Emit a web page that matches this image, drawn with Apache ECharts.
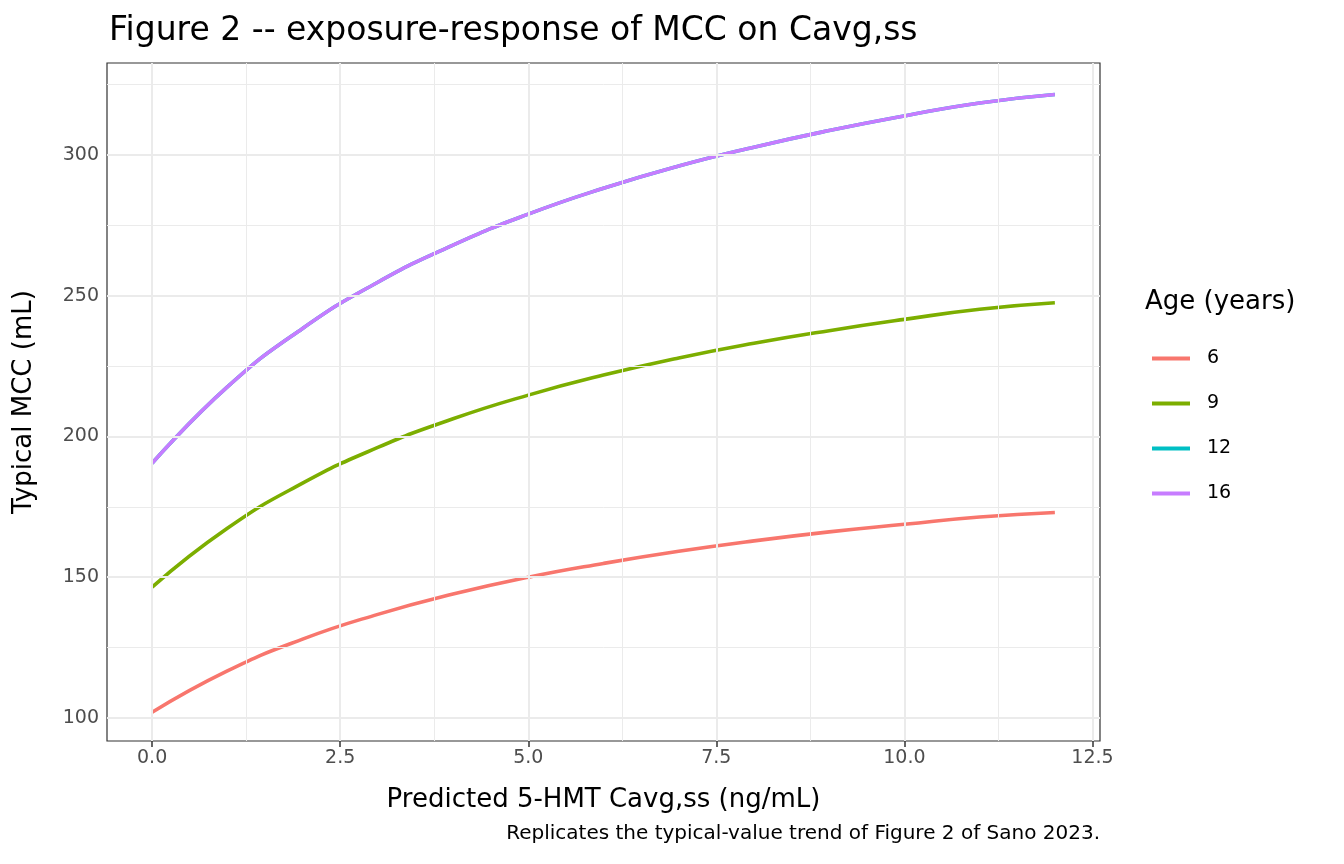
<!DOCTYPE html>
<html><head><meta charset="utf-8">
<script src="https://cdn.jsdelivr.net/npm/echarts@6/dist/echarts.min.js"></script>
<style>html,body{margin:0;padding:0;background:#fff}#c{width:1344px;height:864px}</style>
</head><body><div id="c"></div>
<script>
const conc = [0,1,2,3,4,5,6,7,8,9,10,11,12];
const age6  = [102.0,116.7,128.0,136.8,144.0,150.0,154.9,159.2,162.9,166.1,168.8,171.4,173.0];
const age9  = [146.5,167.4,183.4,196.1,206.3,214.7,221.8,227.9,233.1,237.6,241.6,245.2,247.5];
const age12 = [190.5,217.6,238.4,254.8,268.0,279.0,288.2,296.1,302.8,308.7,313.9,318.5,321.5];
const age16 = [190.5,217.6,238.4,254.8,268.0,279.0,288.2,296.1,302.8,308.7,313.9,318.5,321.5];
const xTicks = [0,2.5,5,7.5,10,12.5];
const xMinor = [1.25,3.75,6.25,8.75,11.25];
const yTicks = [100,150,200,250,300];
const yMinor = [125,175,225,275,325];
const names = ['6','9','12','16'];
const colors = ['#F8766D','#7CAE00','#00BFC4','#C77CFF'];
const dataSets = [age6,age9,age12,age16];

const chart = echarts.init(document.getElementById('c'));
const ff = 'DejaVu Sans';
const gl = (arr,key,w) => arr.map(v=>({[key]:v,lineStyle:{color:'#ebebeb',width:w,type:'solid'}}));
const series = [{
  type:'line', data:[], silent:true,
  markLine:{silent:true,symbol:'none',label:{show:false},animation:false,
    data:[...gl(xMinor,'xAxis',1),...gl(yMinor,'yAxis',1),...gl(xTicks,'xAxis',2),...gl(yTicks,'yAxis',2)]}
}];
dataSets.forEach((d,i)=>series.push({
  name:names[i], type:'line', smooth:true, showSymbol:false,
  data:conc.map((c,j)=>[c,d[j]]), lineStyle:{color:colors[i],width:3.6}, itemStyle:{color:colors[i]}
}));
chart.setOption({
  animation:false,
  textStyle:{fontFamily:ff},
  title:{text:'Figure 2 -- exposure-response of MCC on Cavg,ss',left:104,top:10,
    textStyle:{fontFamily:ff,fontSize:33,fontWeight:'normal',color:'#000'}},
  grid:{left:107,right:244,top:63,bottom:123,show:true,borderColor:'#333',borderWidth:1.2},
  xAxis:{type:'value',min:-0.6,max:12.6,
    axisLine:{show:false},splitLine:{show:false},
    axisTick:{show:true,customValues:xTicks,length:6,lineStyle:{color:'#333',width:1.5}},
    axisLabel:{customValues:xTicks,fontSize:19,color:'#4d4d4d',margin:8,formatter:v=>v.toFixed(1)},
    name:'Predicted 5-HMT Cavg,ss (ng/mL)',nameLocation:'middle',nameGap:46,
    nameTextStyle:{fontSize:26,color:'#000'}},
  yAxis:{type:'value',min:91.8,max:332.7,
    axisLine:{show:false},splitLine:{show:false},
    axisTick:{show:true,customValues:yTicks,length:6,lineStyle:{color:'#333',width:1.5}},
    axisLabel:{customValues:yTicks,fontSize:19,color:'#4d4d4d',margin:8},
    name:'Typical MCC (mL)',nameLocation:'middle',nameGap:70,
    nameTextStyle:{fontSize:26,color:'#000'}},
  legend:{data:names,orient:'vertical',left:1147,top:344,itemWidth:38,itemHeight:4,itemGap:26,
    icon:'rect',textStyle:{fontSize:19,color:'#000',padding:[0,0,0,12]}},
  graphic:[
    {type:'text',left:1145,top:289,style:{text:'Age (years)',font:'26px "DejaVu Sans"',fill:'#000'}},
    {type:'text',right:244,top:824,style:{text:'Replicates the typical-value trend of Figure 2 of Sano 2023.',font:'20px "DejaVu Sans"',fill:'#000'}}
  ],
  series
});
</script></body></html>
